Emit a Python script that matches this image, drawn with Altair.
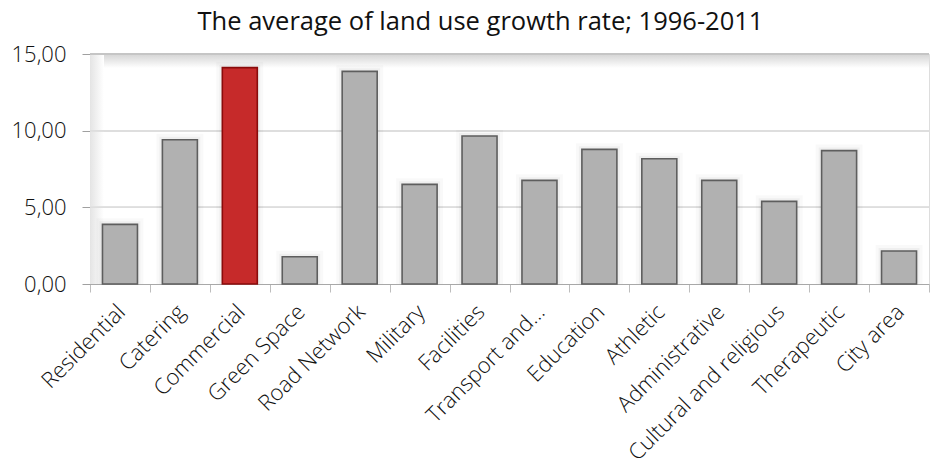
import altair as alt
import pandas as pd

categories = ["Residential", "Catering", "Commercial", "Green Space", "Road Network",
              "Military", "Facilities", "Transport and...", "Education", "Athletic",
              "Administrative", "Cultural and religious", "Therapeutic", "City area"]
values = [3.89, 9.41, 14.11, 1.78, 13.87, 6.50, 9.65, 6.76, 8.78, 8.17, 6.76, 5.39, 8.70, 2.15]
highlight = "Commercial"
y_ticks = [0, 5, 10, 15]
title_text = "The average of land use growth rate; 1996-2011"

df = pd.DataFrame({"category": categories, "value": values})
FONT = "Open Sans"

x_enc = alt.X("category:N", sort=categories,
              scale=alt.Scale(paddingInner=0, paddingOuter=0),
              axis=alt.Axis(title=None, labelAngle=-45, labelFontSize=22, labelFont=FONT,
                            labelFontWeight=300,
                            labelColor="#111111", tickBand="extent", tickSize=8,
                            tickColor="#bdbdbd", domainColor="#a8a8a8", labelPadding=9,
                            labelOffset=-6, grid=False, labelLimit=400))
y_enc = alt.Y("value:Q", scale=alt.Scale(domain=[0, 15], nice=False),
              axis=alt.Axis(title=None, values=y_ticks, labelFontSize=22, labelFont=FONT,
                            labelFontWeight=300,
                            labelColor="#111111", tickSize=8, tickColor="#a0a0a0",
                            domainColor="#a0a0a0", labelPadding=16, grid=True,
                            gridColor="#dedede",
                            labelExpr="replace(format(datum.value, '.2f'), '.', ',')"))

base = alt.Chart(df)

top_shadow = base.mark_rect(
    color=alt.Gradient(gradient="linear", x1=0, y1=0, x2=0, y2=1,
                       stops=[alt.GradientStop(color="#d4d4d4", offset=0),
                              alt.GradientStop(color="#ffffff", offset=1)])
).encode(x=alt.value(0), x2=alt.value("width"), y=alt.value(0), y2=alt.value(14))

left_shadow = base.mark_rect(
    color=alt.Gradient(gradient="linear", x1=0, y1=0, x2=1, y2=0,
                       stops=[alt.GradientStop(color="#e4e4e4", offset=0),
                              alt.GradientStop(color="#ffffff", offset=1)]),
    opacity=0.8
).encode(x=alt.value(0), x2=alt.value(14), y=alt.value(0), y2=alt.value("height"))

top_line = base.mark_rule(color="#c4c4c4", strokeWidth=1.5).encode(
    y=alt.datum(15), x=alt.value(0), x2=alt.value("width"))

grid_lines = base.mark_rule(color="#dedede", strokeWidth=1).encode(
    y=alt.datum(10), x=alt.value(0), x2=alt.value("width"))
grid_lines2 = base.mark_rule(color="#dedede", strokeWidth=1).encode(
    y=alt.datum(5), x=alt.value(0), x2=alt.value("width"))

halo1 = base.mark_bar(width=alt.RelativeBandSize(0.584), fill=None, stroke="#000000",
                      strokeWidth=12, strokeOpacity=0.025, clip=True).encode(x=x_enc, y=y_enc)
halo2 = base.mark_bar(width=alt.RelativeBandSize(0.584), fill=None, stroke="#000000",
                      strokeWidth=6, strokeOpacity=0.04, clip=True).encode(x=x_enc, y=y_enc)

bars = base.mark_bar(width=alt.RelativeBandSize(0.584), strokeWidth=1.6).encode(
    x=x_enc, y=y_enc,
    fill=alt.condition(alt.datum.category == highlight, alt.value("#c62a2a"), alt.value("#b1b1b1")),
    stroke=alt.condition(alt.datum.category == highlight, alt.value("#8a0b0b"), alt.value("#5e5e5e")),
)

chart = alt.layer(top_shadow, left_shadow, grid_lines, grid_lines2, top_line, halo1, halo2, bars).properties(
    width=839, height=230,
    title=alt.TitleParams(title_text, fontSize=25.5, font=FONT, fontWeight="normal",
                          color="#111111", anchor="middle", dx=-29, offset=8),
    autosize=alt.AutoSizeParams(type="none"),
    padding={"left": 90, "top": 54, "right": 2, "bottom": 184},
).configure_view(stroke=None).configure(background="white")

chart.save("out.html", embed_options={"renderer": "svg", "actions": False})
